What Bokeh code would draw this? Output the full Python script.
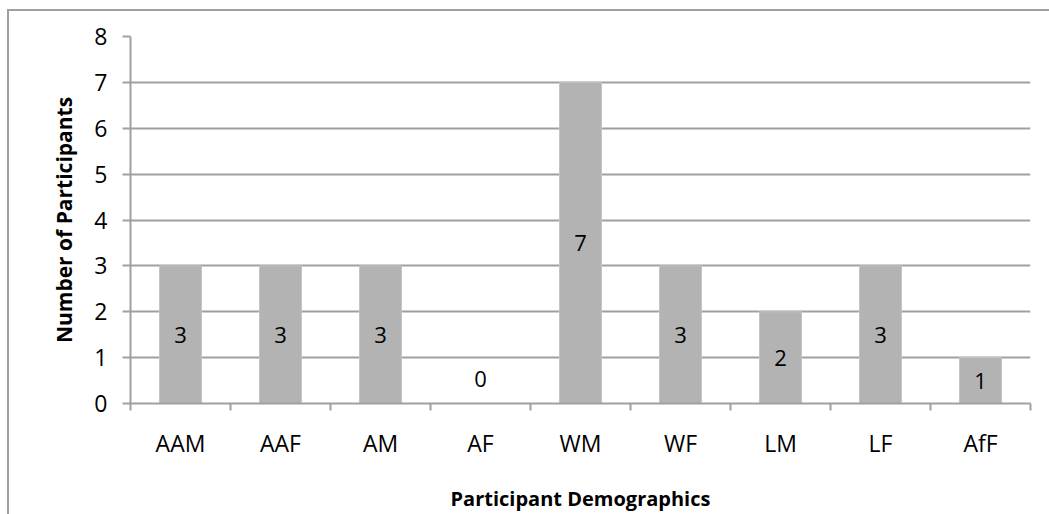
import numpy as np
from bokeh.plotting import figure
from bokeh.models import ColumnDataSource, FixedTicker, Range1d
from bokeh.core.properties import value
from bokeh.embed import file_html
from bokeh.resources import INLINE

categories = ["AAM", "AAF", "AM", "AF", "WM", "WF", "LM", "LF", "AfF"]
counts = [3, 3, 3, 0, 7, 3, 2, 3, 1]
y_ticks = [0, 1, 2, 3, 4, 5, 6, 7, 8]

FONT = "Open Sans"
GRID = "#A0A0A0"
BAR = "#B3B3B3"

xs = list(range(1, len(categories) + 1))
vals = np.array(counts, dtype=float)
label_y = np.where(vals > 0, vals / 2.0, 0.0)
label_off = np.where(vals > 0, 0.0, -25.0)

src = ColumnDataSource(dict(x=xs, top=counts, ly=label_y, loff=label_off,
                            txt=[str(c) for c in counts]))

p = figure(width=1042, height=505, output_backend="svg", toolbar_location=None,
           x_range=Range1d(0.5, len(categories) + 0.5), y_range=Range1d(0, 8),
           min_border_left=121, min_border_right=21, min_border_top=25,
           min_border_bottom=113)
p.margin = (9, 0, 0, 7)
p.styles = {"border-left": "2px solid #A0A0A0", "border-top": "2px solid #A0A0A0"}

p.outline_line_color = None
p.background_fill_color = "white"
p.border_fill_color = "white"

p.vbar(x="x", top="top", bottom=0, width=0.42, source=src, fill_color=BAR,
       line_color="#C4C4C4", line_width=1)
p.text(x="x", y="ly", text="txt", y_offset="loff", source=src,
       text_align="center", text_baseline="middle", text_font=value(FONT),
       text_font_size="22px", text_color="black")

# x axis
xa = p.xaxis[0]
xa.ticker = FixedTicker(ticks=xs, minor_ticks=[i + 0.5 for i in range(len(categories) + 1)])
xa.major_label_overrides = {x: c for x, c in zip(xs, categories)}
xa.major_tick_out = 0
xa.major_tick_in = 0
xa.minor_tick_out = 7
xa.minor_tick_in = 0
xa.minor_tick_line_color = GRID
xa.minor_tick_line_width = 2
xa.axis_line_color = GRID
xa.axis_line_width = 2
xa.major_label_standoff = 16
xa.major_label_text_font = FONT
xa.major_label_text_font_size = "23px"
xa.major_label_text_color = "black"
xa.axis_label = "Participant Demographics"
xa.axis_label_text_font = FONT
xa.axis_label_text_font_style = "bold"
xa.axis_label_text_font_size = "20px"
xa.axis_label_text_color = "black"
xa.axis_label_standoff = 23

ya = p.yaxis[0]
ya.ticker = FixedTicker(ticks=y_ticks, minor_ticks=[])
ya.major_tick_out = 8
ya.major_tick_in = 0
ya.major_tick_line_color = GRID
ya.major_tick_line_width = 2
ya.axis_line_color = GRID
ya.axis_line_width = 2
ya.major_label_standoff = 15
ya.major_label_text_font = FONT
ya.major_label_text_font_size = "23px"
ya.major_label_text_color = "black"
ya.axis_label = "Number of Participants"
ya.axis_label_text_font = FONT
ya.axis_label_text_font_style = "bold"
ya.axis_label_text_font_size = "21px"
ya.axis_label_text_color = "black"
ya.axis_label_standoff = 13

p.xgrid.visible = False
p.ygrid.grid_line_color = GRID
p.ygrid.grid_line_width = 2

open("out.html", "w").write(file_html(p, INLINE))
